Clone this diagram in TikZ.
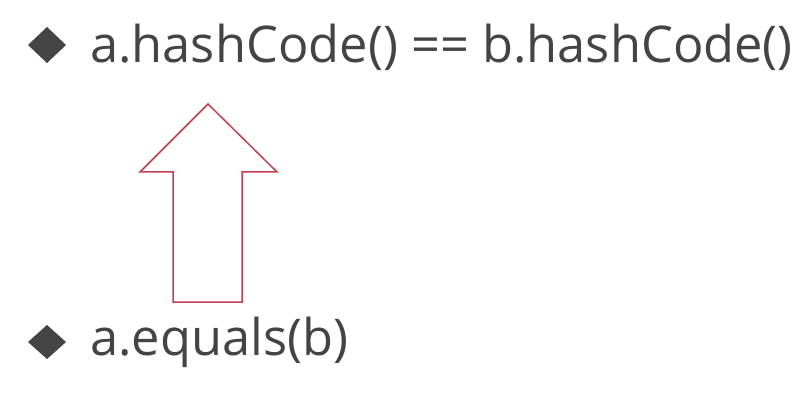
\documentclass[tikz,border=0pt]{standalone}
\usepackage{fontspec}
\setmainfont{Open Sans}
\definecolor{txt}{HTML}{444444}
\definecolor{arr}{HTML}{C0404F}
\begin{document}
\begin{tikzpicture}[x=1pt,y=-1pt,
  label/.style={anchor=base west,inner sep=0pt,text=txt,font=\fontsize{50.6}{60}\selectfont},
  bullet/.style={fill=txt,draw=none}]
\useasboundingbox[fill=white] (0,0) rectangle (812,401);
\fill[bullet] (47,27) -- (66,45) -- (47,63) -- (28,45) -- cycle;
\node[label] (top) at (90,63) {a.hashCode() == b.hashCode()};
\fill[bullet] (47,325) -- (66,342) -- (47,359) -- (28,342) -- cycle;
\node[label] (bot) at (90,355) {a.equals(b)};
\draw[arr,line width=1.5pt,line join=miter] (208,104) -- (277,172) -- (242,172) -- (242,302) -- (173,302) -- (173,172) -- (140,172) -- cycle;
\end{tikzpicture}
\end{document}
